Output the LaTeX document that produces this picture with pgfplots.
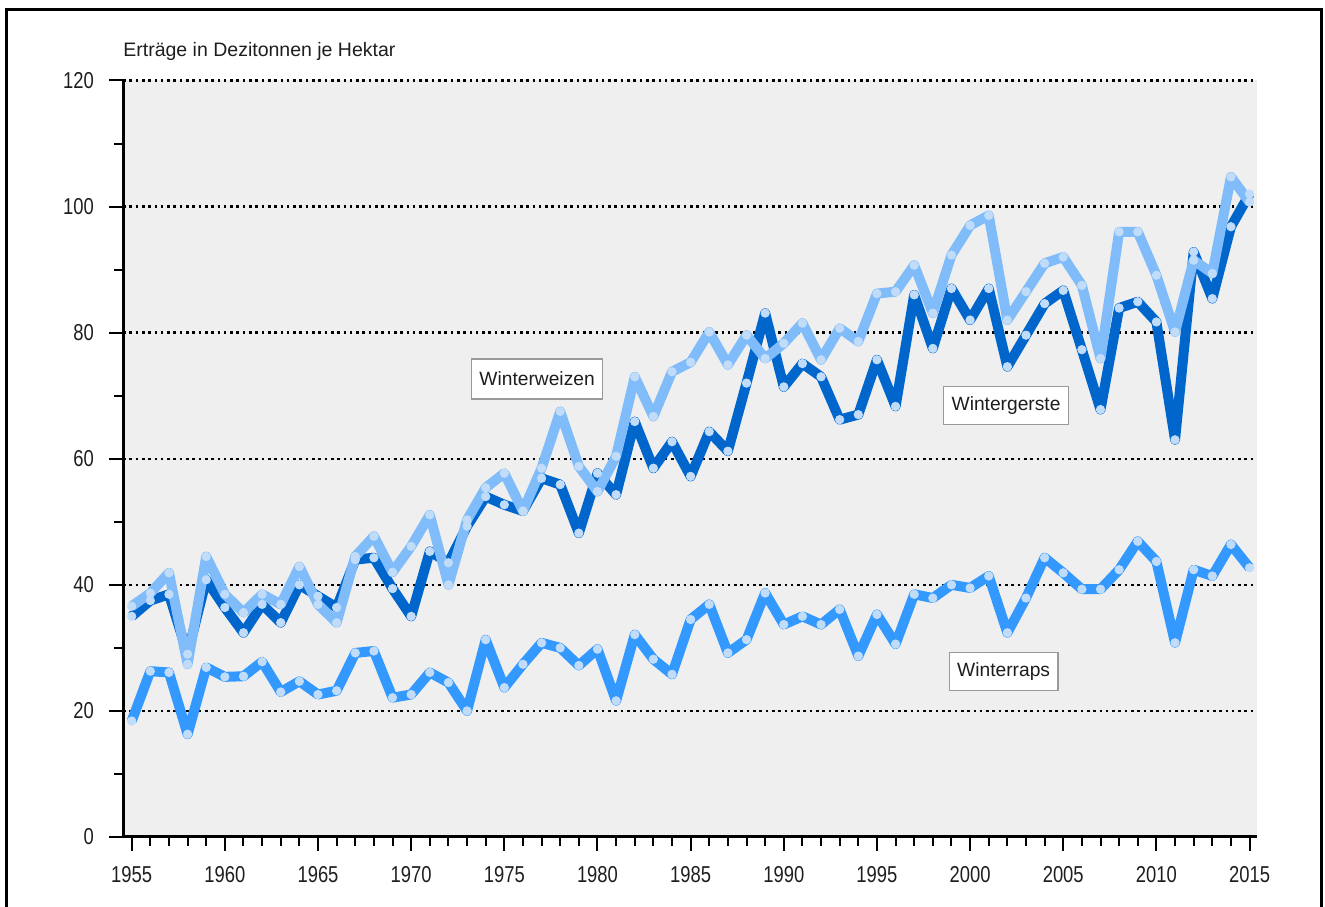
\documentclass[border=0pt]{standalone}
\usepackage{fontspec}
\setmainfont{Liberation Sans}
\newfontfamily\ticknarrow[FakeStretch=0.8]{Liberation Sans}
\usepackage{pgfplots}
\usepackage{pgfplotstable}
\pgfplotsset{compat=1.18}
\definecolor{gerste}{RGB}{0,102,204}
\definecolor{weizen}{RGB}{128,188,250}
\definecolor{raps}{RGB}{51,153,255}
\definecolor{bgcol}{RGB}{239,239,239}
\definecolor{markcol}{RGB}{192,220,248}
\definecolor{txt}{RGB}{30,30,30}
\pgfplotstableread{
year raps weizen gerste
1955 18.4 36.6 35.0
1956 26.3 38.7 37.5
1957 26.1 41.9 38.5
1958 16.3 27.4 29.0
1959 26.9 44.5 40.8
1960 25.4 38.5 36.4
1961 25.5 35.6 32.4
1962 27.8 38.5 36.9
1963 23.0 36.9 34.0
1964 24.7 42.9 40.0
1965 22.6 36.9 38.2
1966 23.2 34.0 36.4
1967 29.2 44.5 44.0
1968 29.5 47.7 44.3
1969 22.1 42.0 39.4
1970 22.6 46.1 35.0
1971 26.1 51.1 45.3
1972 24.5 40.0 43.5
1973 20.0 50.3 49.3
1974 31.3 55.4 54.0
1975 23.7 57.7 52.7
1976 27.4 51.7 51.7
1977 30.8 58.5 56.9
1978 30.0 67.5 55.9
1979 27.2 58.8 48.2
1980 29.8 54.8 57.7
1981 21.6 60.4 54.3
1982 32.1 73.0 65.9
1983 28.2 66.7 58.5
1984 25.8 73.8 62.7
1985 34.5 75.3 57.2
1986 36.9 80.1 64.3
1987 29.2 74.9 61.2
1988 31.3 79.6 72.0
1989 38.7 75.9 83.1
1990 33.7 78.3 71.4
1991 35.0 81.5 75.1
1992 33.7 75.7 73.0
1993 36.1 80.7 66.2
1994 28.7 78.6 67.0
1995 35.3 86.2 75.7
1996 30.6 86.5 68.3
1997 38.5 90.7 86.0
1998 37.9 83.1 77.5
1999 40.0 92.3 87.0
2000 39.5 97.0 82.0
2001 41.4 98.6 87.0
2002 32.4 82.0 74.6
2003 37.9 86.5 79.6
2004 44.3 91.0 84.6
2005 41.9 92.0 86.7
2006 39.3 87.5 77.3
2007 39.3 75.9 67.8
2008 42.4 96.0 83.9
2009 46.9 96.0 84.9
2010 43.7 89.1 81.7
2011 30.8 80.1 63.0
2012 42.4 91.5 92.8
2013 41.4 89.4 85.4
2014 46.4 104.7 96.8
2015 42.7 100.7 102.0
}\datatable
\begin{document}
\begin{tikzpicture}
\begin{axis}[
  scale only axis,
  width=567pt, height=378.25pt,
  xmin=1954.533, xmax=2015.40,
  ymin=0, ymax=120,
  axis lines=left,
  axis line style={-, line width=1.5pt, black},
  axis background/.style={fill=bgcol},
  xtick={1955,1960,...,2015},
  minor x tick num=4,
  ytick={0,20,...,120},
  minor y tick num=1,
  tick align=outside,
  major tick length=7pt,
  minor tick length=4.5pt,
  every tick/.style={black, line width=1pt},
  ymajorgrids,
  major grid style={black, line width=1.2pt, dash pattern=on 1.3pt off 1.85pt},
  /pgf/number format/assume math mode=true,
  /pgf/number format/1000 sep={},
  tick label style={font=\ticknarrow\fontsize{11.5}{13}\selectfont, text=txt},
  xticklabel style={yshift=-4pt},
  yticklabel style={xshift=-4pt},
  clip=false,
]
\coordinate (ll) at (rel axis cs:0,0);
\coordinate (ur) at (rel axis cs:1,1);
\addplot[raps, line width=5pt, line join=round, no markers] table[x=year, y=raps] {\datatable};
\addplot[only marks, mark=*, mark size=2.1pt, color=markcol] table[x=year, y=raps] {\datatable};
\addplot[gerste, line width=5pt, line join=round, no markers] table[x=year, y=gerste] {\datatable};
\addplot[only marks, mark=*, mark size=2.1pt, color=markcol] table[x=year, y=gerste] {\datatable};
\addplot[weizen, line width=5pt, line join=round, no markers] table[x=year, y=weizen] {\datatable};
\addplot[only marks, mark=*, mark size=2.1pt, color=markcol] table[x=year, y=weizen] {\datatable};
\node[draw=gray!80, line width=0.6pt, fill=white, text=txt, font=\fontsize{9.6}{11}\selectfont, inner xsep=4pt, minimum height=20pt] at (axis cs:1976.76,72.65) {Winterweizen};
\node[draw=gray!80, line width=0.6pt, fill=white, text=txt, font=\fontsize{9.6}{11}\selectfont, inner xsep=4pt, minimum height=19pt] at (axis cs:2001.93,68.4) {Wintergerste};
\node[draw=gray!80, line width=0.6pt, fill=white, text=txt, font=\fontsize{9.6}{11}\selectfont, inner xsep=4pt, minimum height=19pt] at (axis cs:2001.8,26.3) {Winterraps};
\node[anchor=base west, text=txt, font=\fontsize{9.75}{11}\selectfont, inner sep=0pt] at ([yshift=11.75pt]rel axis cs:0,1) {Erträge in Dezitonnen je Hektar};
\end{axis}
\draw[black, line width=1.5pt] ([shift={(-58pt,-36pt)}]ll) -- ([shift={(-58pt,35.25pt)}]ll |- ur) -- ([shift={(32pt,35.25pt)}]ur) -- ([shift={(32pt,-36pt)}]ur |- ll);
\pgfresetboundingbox
\path[use as bounding box] ([shift={(-61.5pt,-35pt)}]ll) rectangle ([shift={(34pt,40.25pt)}]ur);
\end{tikzpicture}
\end{document}
